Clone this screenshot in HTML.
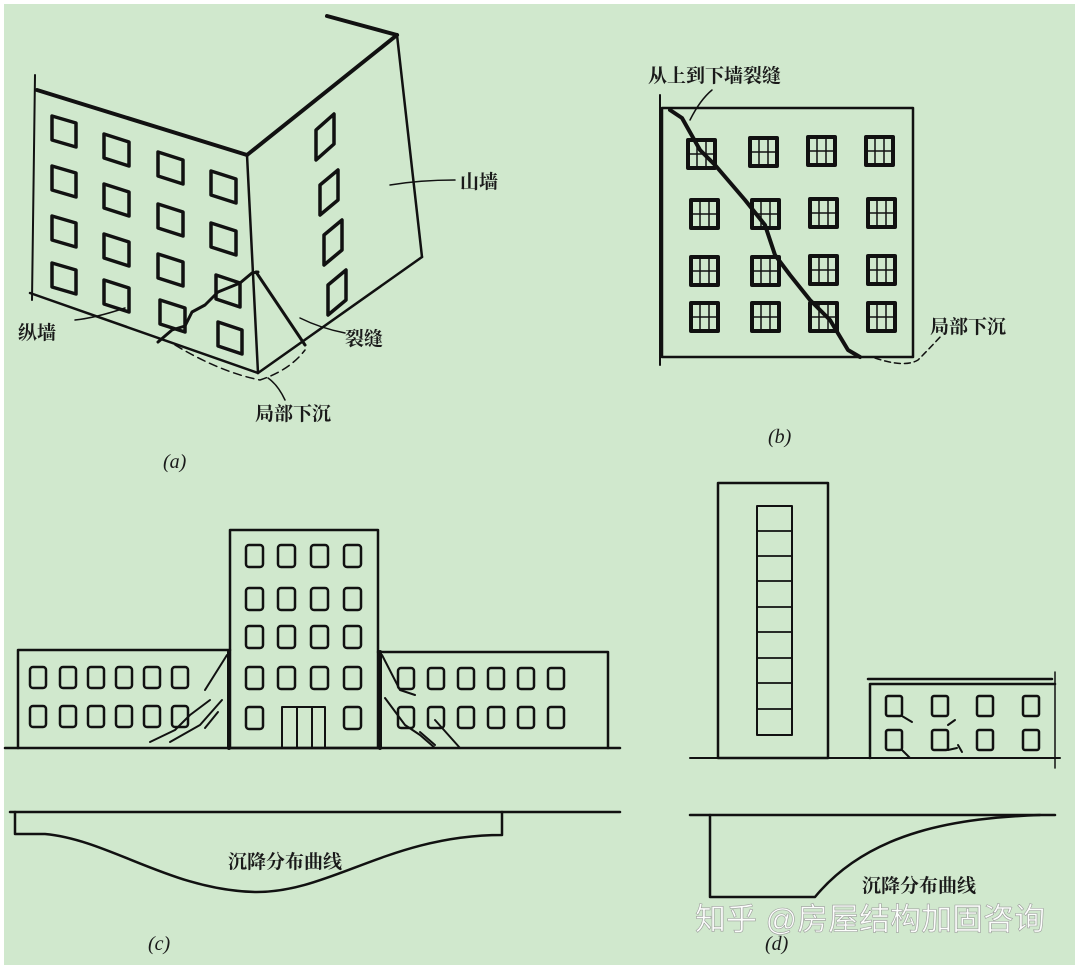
<!DOCTYPE html>
<html><head><meta charset="utf-8"><style>
html,body{margin:0;padding:0;background:#fff;}
svg{display:block;}
text{font-family:"Liberation Serif","Noto Serif CJK SC","Noto Sans CJK SC",serif;fill:#1a1a1a;}
.cn{font-family:"Liberation Sans","Noto Sans CJK SC",sans-serif;font-weight:bold;}
</style></head><body>
<svg width="1080" height="970" viewBox="0 0 1080 970" xmlns="http://www.w3.org/2000/svg">
<rect x="4" y="4" width="1071" height="961" fill="#d0e8cd"/>
<g stroke="#111" fill="none" stroke-linejoin="round" stroke-linecap="round">
<!-- (a) -->
<line x1="35" y1="75" x2="32" y2="300" stroke-width="2"/>
<line x1="37" y1="90" x2="247" y2="155" stroke-width="4"/>
<line x1="30" y1="293" x2="258" y2="373" stroke-width="2.5"/>
<line x1="247" y1="155" x2="258" y2="373" stroke-width="2.5"/>
<line x1="247" y1="155" x2="397" y2="35" stroke-width="4"/>
<line x1="327" y1="16" x2="397" y2="35" stroke-width="4"/>
<line x1="397" y1="35" x2="422" y2="257" stroke-width="2.5"/>
<line x1="422" y1="257" x2="258" y2="373" stroke-width="2.5"/>
<g stroke-width="3.5">
<path d="M52 116 l24 7 v24 l-24 -7z"/><path d="M52 166 l24 7 v24 l-24 -7z"/><path d="M52 216 l24 7 v24 l-24 -7z"/><path d="M52 263 l24 7 v24 l-24 -7z"/>
<path d="M104 134 l25 8 v24 l-25 -8z"/><path d="M104 184 l25 8 v24 l-25 -8z"/><path d="M104 234 l25 8 v24 l-25 -8z"/><path d="M104 280 l25 8 v24 l-25 -8z"/>
<path d="M158 152 l25 8 v24 l-25 -8z"/><path d="M158 204 l25 8 v24 l-25 -8z"/><path d="M158 254 l25 8 v24 l-25 -8z"/><path d="M160 300 l25 8 v24 l-25 -8z"/>
<path d="M211 171 l25 8 v24 l-25 -8z"/><path d="M211 223 l25 8 v24 l-25 -8z"/><path d="M216 275 l24 8 v24 l-24 -8z"/><path d="M218 322 l24 8 v24 l-24 -8z"/>
<path d="M316 130 l18 -16 v30 l-18 16z"/><path d="M320 185 l18 -15 v30 l-18 15z"/><path d="M324 235 l18 -15 v30 l-18 15z"/><path d="M328 285 l18 -15 v30 l-18 15z"/>
</g>
<polyline points="158,342 172,330 185,326 192,312 205,305 218,292 240,283 252,273 258,272" stroke-width="3"/>
<line x1="256" y1="272" x2="305" y2="345" stroke-width="3"/>
<path d="M175 345 Q220 372 260 380 Q290 370 305 350" stroke-width="1.5" stroke-dasharray="8 5"/>
<path d="M75 320 Q95 318 125 308" stroke-width="1.5"/>
<path d="M300 318 Q320 328 345 333" stroke-width="1.5"/>
<path d="M268 378 Q278 385 285 400" stroke-width="1.5"/>
<path d="M390 185 Q420 180 455 180" stroke-width="1.5"/>
<!-- (b) -->
<line x1="660" y1="95" x2="660" y2="365" stroke-width="2"/>
<rect x="662" y="108" width="251" height="249" stroke-width="2.5"/>
<g stroke-width="4">
<rect x="688" y="140" width="27" height="28"/><rect x="750" y="138" width="27" height="28"/><rect x="808" y="137" width="27" height="28"/><rect x="866" y="137" width="27" height="28"/>
<rect x="691" y="200" width="27" height="28"/><rect x="752" y="200" width="27" height="28"/><rect x="810" y="199" width="27" height="28"/><rect x="868" y="199" width="27" height="28"/>
<rect x="691" y="257" width="27" height="28"/><rect x="752" y="257" width="27" height="28"/><rect x="810" y="256" width="27" height="28"/><rect x="868" y="256" width="27" height="28"/>
<rect x="691" y="303" width="27" height="28"/><rect x="752" y="303" width="27" height="28"/><rect x="810" y="303" width="27" height="28"/><rect x="868" y="303" width="27" height="28"/>
</g>
<g stroke-width="1.5">
<path d="M697 140v28M706 140v28M688 154h27M759 138v28M768 138v28M750 152h27M817 137v28M826 137v28M808 151h27M875 137v28M884 137v28M866 151h27"/>
<path d="M700 200v28M709 200v28M691 214h27M761 200v28M770 200v28M752 214h27M819 199v28M828 199v28M810 213h27M877 199v28M886 199v28M868 213h27"/>
<path d="M700 257v28M709 257v28M691 271h27M761 257v28M770 257v28M752 271h27M819 256v28M828 256v28M810 270h27M877 256v28M886 256v28M868 270h27"/>
<path d="M700 303v28M709 303v28M691 317h27M761 303v28M770 303v28M752 317h27M819 303v28M828 303v28M810 317h27M877 303v28M886 303v28M868 317h27"/>
</g>
<polyline points="670,110 682,118 700,150 715,165 745,200 765,225 775,255 790,275 810,300 830,320 848,350 860,357" stroke-width="4"/>
<path d="M690 120 Q700 100 712 90" stroke-width="1.5"/>
<path d="M875 358 Q905 368 918 360 Q928 350 942 335" stroke-width="1.5" stroke-dasharray="6 4"/>
<!-- (c) -->
<line x1="5" y1="748" x2="620" y2="748" stroke-width="2.5"/>
<rect x="230" y="530" width="148" height="218" stroke-width="2.5"/>
<path d="M18 748 V650 H230 M378 652 H608 V748" stroke-width="2.5"/>
<line x1="229" y1="652" x2="229" y2="748" stroke-width="4"/>
<line x1="380" y1="652" x2="380" y2="748" stroke-width="4"/>
<g stroke-width="2.5">
<rect x="246" y="545" width="17" height="22" rx="3"/><rect x="278" y="545" width="17" height="22" rx="3"/><rect x="311" y="545" width="17" height="22" rx="3"/><rect x="344" y="545" width="17" height="22" rx="3"/>
<rect x="246" y="588" width="17" height="22" rx="3"/><rect x="278" y="588" width="17" height="22" rx="3"/><rect x="311" y="588" width="17" height="22" rx="3"/><rect x="344" y="588" width="17" height="22" rx="3"/>
<rect x="246" y="626" width="17" height="22" rx="3"/><rect x="278" y="626" width="17" height="22" rx="3"/><rect x="311" y="626" width="17" height="22" rx="3"/><rect x="344" y="626" width="17" height="22" rx="3"/>
<rect x="246" y="667" width="17" height="22" rx="3"/><rect x="278" y="667" width="17" height="22" rx="3"/><rect x="311" y="667" width="17" height="22" rx="3"/><rect x="344" y="667" width="17" height="22" rx="3"/>
<rect x="246" y="707" width="17" height="22" rx="3"/><rect x="344" y="707" width="17" height="22" rx="3"/>
<rect x="30" y="667" width="16" height="21" rx="3"/><rect x="60" y="667" width="16" height="21" rx="3"/><rect x="88" y="667" width="16" height="21" rx="3"/><rect x="116" y="667" width="16" height="21" rx="3"/><rect x="144" y="667" width="16" height="21" rx="3"/><rect x="172" y="667" width="16" height="21" rx="3"/>
<rect x="30" y="706" width="16" height="21" rx="3"/><rect x="60" y="706" width="16" height="21" rx="3"/><rect x="88" y="706" width="16" height="21" rx="3"/><rect x="116" y="706" width="16" height="21" rx="3"/><rect x="144" y="706" width="16" height="21" rx="3"/><rect x="172" y="706" width="16" height="21" rx="3"/>
<rect x="398" y="668" width="16" height="21" rx="3"/><rect x="428" y="668" width="16" height="21" rx="3"/><rect x="458" y="668" width="16" height="21" rx="3"/><rect x="488" y="668" width="16" height="21" rx="3"/><rect x="518" y="668" width="16" height="21" rx="3"/><rect x="548" y="668" width="16" height="21" rx="3"/>
<rect x="398" y="707" width="16" height="21" rx="3"/><rect x="428" y="707" width="16" height="21" rx="3"/><rect x="458" y="707" width="16" height="21" rx="3"/><rect x="488" y="707" width="16" height="21" rx="3"/><rect x="518" y="707" width="16" height="21" rx="3"/><rect x="548" y="707" width="16" height="21" rx="3"/>
</g>
<path d="M282 748 V707 H325 V748 M297 707 V748 M312 707 V748" stroke-width="2"/>
<path d="M227 655 L205 690 M210 700 L190 715 L175 730 L150 742 M222 700 L200 725 L170 742 M218 712 L205 728" stroke-width="2"/>
<path d="M382 655 L400 690 L415 695 M385 698 L405 725 L420 735 L435 748 M420 732 L435 745 M435 720 L460 748" stroke-width="2"/>
<line x1="10" y1="812" x2="620" y2="812" stroke-width="2.5"/>
<path d="M15 812 V834 H45 C110 840 170 890 255 892 C330 893 390 835 502 835 V812" stroke-width="2.5"/>
<!-- (d) -->
<line x1="690" y1="758" x2="1060" y2="758" stroke-width="2"/>
<rect x="718" y="483" width="110" height="275" stroke-width="2.5"/>
<rect x="757" y="506" width="35" height="229" stroke-width="2"/>
<path d="M757 531h35M757 556h35M757 581h35M757 607h35M757 632h35M757 658h35M757 683h35M757 709h35" stroke-width="1.8"/>
<path d="M870 758 V684 H1055 M868 679 H1052" stroke-width="2.5"/>
<line x1="1055" y1="672" x2="1055" y2="768" stroke-width="1.5"/>
<g stroke-width="2.5">
<rect x="886" y="696" width="16" height="20" rx="2"/><rect x="932" y="696" width="16" height="20" rx="2"/><rect x="977" y="696" width="16" height="20" rx="2"/><rect x="1023" y="696" width="16" height="20" rx="2"/>
<rect x="886" y="730" width="16" height="20" rx="2"/><rect x="932" y="730" width="16" height="20" rx="2"/><rect x="977" y="730" width="16" height="20" rx="2"/><rect x="1023" y="730" width="16" height="20" rx="2"/>
</g>
<path d="M902 716 L912 722 M948 725 L955 720 M948 750 L957 748 M902 750 L910 758 M958 745 L962 752" stroke-width="2"/>
<line x1="690" y1="815" x2="1055" y2="815" stroke-width="2.5"/>
<path d="M710 815 V897 H815 C870 830 960 818 1040 815" stroke-width="2.5"/>
</g>
<g class="cn">
<text x="18" y="339" font-size="19">纵墙</text>
<text x="345" y="345" font-size="19">裂缝</text>
<text x="255" y="420" font-size="19">局部下沉</text>
<text x="460" y="188" font-size="19">山墙</text>
<text x="648" y="82" font-size="19">从上到下墙裂缝</text>
<text x="930" y="333" font-size="19">局部下沉</text>
<text x="228" y="868" font-size="19">沉降分布曲线</text>
<text x="862" y="892" font-size="19">沉降分布曲线</text>
</g>
<text x="163" y="468" font-size="20" font-style="italic">(a)</text>
<text x="768" y="443" font-size="20" font-style="italic">(b)</text>
<text x="148" y="950" font-size="20" font-style="italic">(c)</text>
<text x="765" y="950" font-size="20" font-style="italic">(d)</text>
<text x="695" y="930" font-size="31" style="font-family:'Liberation Sans','Noto Sans CJK SC',sans-serif;fill:#fff;stroke:#999;stroke-width:0.6;opacity:0.95">知乎 @房屋结构加固咨询</text>
</svg>
</body></html>
